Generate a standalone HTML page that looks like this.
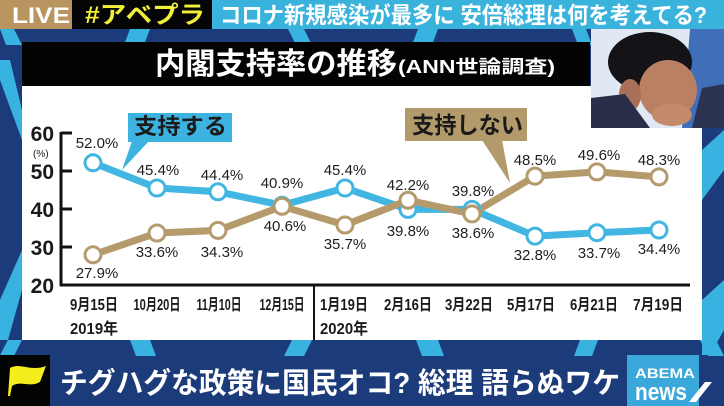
<!DOCTYPE html>
<html><head><meta charset="utf-8">
<style>
html,body{margin:0;padding:0;background:#1c3c7c;}
svg{display:block;}
text{font-family:"Liberation Sans","Noto Sans CJK JP",sans-serif;}
</style></head>
<body>
<svg width="724" height="406" viewBox="0 0 724 406" xmlns="http://www.w3.org/2000/svg">
<rect x="0" y="0" width="724" height="406" fill="#1c3b7b"/>
<g fill="#38b2e0">
<polygon points="0,29 14,29 22,45 6,45"/>
<polygon points="130,29 150,29 144,45 124,45"/>
<polygon points="288,29 304,29 312,45 296,45"/>
<polygon points="418,29 438,29 432,45 412,45"/>
<polygon points="572,29 586,29 592,45 578,45"/>
<polygon points="0,60 10,60 22,110 22,140 0,80"/>
<polygon points="0,300 22,250 22,290 8,340 0,340"/>
<polygon points="702,150 724,130 724,170 702,200"/>
<polygon points="702,300 724,280 724,330 710,355 702,355"/>
<polygon points="8,340 22,340 14,356 0,356 0,355"/>
<polygon points="130,340 150,340 156,356 136,356"/>
<polygon points="292,340 312,340 304,356 284,356"/>
<polygon points="416,340 438,340 444,356 422,356"/>
<polygon points="580,340 598,340 592,356 574,356"/>
<polygon points="700,340 716,340 724,356 708,356"/>
</g>
<rect x="0" y="0" width="72" height="29" fill="#b8955e"/>
<rect x="72" y="0" width="140" height="29" fill="#050505"/>
<rect x="212" y="0" width="512" height="29" fill="#3ab3dc"/>
<text x="12" y="23" font-size="22" font-weight="bold" fill="#ffffff" textLength="58" lengthAdjust="spacingAndGlyphs">LIVE</text>
<text x="85" y="23" font-size="24" font-weight="bold" fill="#f2ef3a" textLength="120" lengthAdjust="spacingAndGlyphs">#アベプラ</text>
<text x="220" y="23" font-size="23" font-weight="bold" fill="#ffffff" textLength="487" lengthAdjust="spacingAndGlyphs">コロナ新規感染が最多に 安倍総理は何を考えてる?</text>

<rect x="22" y="86" width="680" height="254" fill="#ffffff"/>

<g>
<rect x="591" y="29" width="133" height="99" fill="#dfe8f3"/>
<polygon points="690,29 724,29 724,90 705,128 682,128" fill="#3f6fb8"/>
<ellipse cx="650" cy="62" rx="42" ry="30" fill="#141418"/>
<ellipse cx="668" cy="90" rx="29" ry="30" fill="#b98064"/>
<ellipse cx="630" cy="95" rx="11" ry="16" fill="#a87058"/>
<polygon points="591,98 625,94 650,128 591,128" fill="#2a2e48"/>
<polygon points="702,88 724,84 724,128 692,128" fill="#2c3350"/>
<ellipse cx="672" cy="115" rx="20" ry="11" fill="#c48a6c"/>
</g>

<rect x="22" y="42" width="568" height="44" fill="#030303"/>
<text x="155" y="74" font-size="30" font-weight="bold" fill="#ffffff" textLength="242" lengthAdjust="spacingAndGlyphs">内閣支持率の推移</text>
<text x="398" y="73" font-size="18" font-weight="bold" fill="#ffffff" textLength="157" lengthAdjust="spacingAndGlyphs">(ANN世論調査)</text>

<g stroke="#111" stroke-width="3" fill="none">
<line x1="61" y1="132" x2="61" y2="286"/>
<line x1="60" y1="285" x2="690" y2="285"/>
<line x1="61" y1="133" x2="72" y2="133"/>
<line x1="61" y1="171" x2="72" y2="171"/>
<line x1="61" y1="209" x2="72" y2="209"/>
<line x1="61" y1="247" x2="72" y2="247"/>
</g>
<line x1="314" y1="285" x2="314" y2="340" stroke="#111" stroke-width="2"/>
<g font-size="21" font-weight="bold" fill="#1a1a1a" text-anchor="end">
<text x="54" y="141">60</text>
<text x="54" y="179">50</text>
<text x="54" y="217">40</text>
<text x="54" y="255">30</text>
<text x="54" y="293">20</text>
</g>
<text x="33" y="157" font-size="10" fill="#1a1a1a">(%)</text>

<g font-size="16" font-weight="bold" fill="#1a1a1a" text-anchor="middle">
<text x="94" y="310" textLength="48" lengthAdjust="spacingAndGlyphs">9月15日</text>
<text x="157" y="310" textLength="47" lengthAdjust="spacingAndGlyphs">10月20日</text>
<text x="219" y="310" textLength="45" lengthAdjust="spacingAndGlyphs">11月10日</text>
<text x="282" y="310" textLength="45" lengthAdjust="spacingAndGlyphs">12月15日</text>
<text x="344" y="310" textLength="48" lengthAdjust="spacingAndGlyphs">1月19日</text>
<text x="408" y="310" textLength="48" lengthAdjust="spacingAndGlyphs">2月16日</text>
<text x="469" y="310" textLength="48" lengthAdjust="spacingAndGlyphs">3月22日</text>
<text x="531" y="310" textLength="48" lengthAdjust="spacingAndGlyphs">5月17日</text>
<text x="594" y="310" textLength="48" lengthAdjust="spacingAndGlyphs">6月21日</text>
<text x="658" y="310" textLength="50" lengthAdjust="spacingAndGlyphs">7月19日</text>
<text x="94" y="334" textLength="48" lengthAdjust="spacingAndGlyphs">2019年</text>
<text x="344" y="334" textLength="48" lengthAdjust="spacingAndGlyphs">2020年</text>
</g>

<polyline fill="none" stroke="#42b6e2" stroke-width="7" stroke-linejoin="round"
 points="93,162.8 157,188 218,191.8 282,205.2 345,188 408,209.4 472,209.4 535,236.1 597,232.7 659,230"/>
<polyline fill="none" stroke="#b59a6c" stroke-width="7" stroke-linejoin="round"
 points="93,254.8 157,233 218,230.4 282,206.3 345,225 408,200.2 472,213.9 535,176.1 597,171.9 659,176.9"/>
<g fill="#ffffff" stroke="#42b6e2" stroke-width="3">
<circle cx="93" cy="162.8" r="8"/><circle cx="157" cy="188" r="8"/><circle cx="218" cy="191.8" r="8"/>
<circle cx="282" cy="205.2" r="8"/><circle cx="345" cy="188" r="8"/><circle cx="408" cy="209.4" r="8"/>
<circle cx="472" cy="209.4" r="8"/><circle cx="535" cy="236.1" r="8"/><circle cx="597" cy="232.7" r="8"/>
<circle cx="659" cy="230" r="8"/>
</g>
<g fill="#ffffff" stroke="#b59a6c" stroke-width="3">
<circle cx="93" cy="254.8" r="8"/><circle cx="157" cy="233" r="8"/><circle cx="218" cy="230.4" r="8"/>
<circle cx="282" cy="206.3" r="8"/><circle cx="345" cy="225" r="8"/><circle cx="408" cy="200.2" r="8"/>
<circle cx="472" cy="213.9" r="8"/><circle cx="535" cy="176.1" r="8"/><circle cx="597" cy="171.9" r="8"/>
<circle cx="659" cy="176.9" r="8"/>
</g>

<g font-size="15" fill="#1e1e1e" text-anchor="middle">
<text x="97" y="148">52.0%</text>
<text x="158" y="175">45.4%</text>
<text x="222" y="180">44.4%</text>
<text x="282" y="188">40.9%</text>
<text x="345" y="175">45.4%</text>
<text x="408" y="236">39.8%</text>
<text x="473" y="196">39.8%</text>
<text x="535" y="260">32.8%</text>
<text x="599" y="258">33.7%</text>
<text x="659" y="254">34.4%</text>
<text x="97" y="278">27.9%</text>
<text x="157" y="257">33.6%</text>
<text x="222" y="257">34.3%</text>
<text x="285" y="231">40.6%</text>
<text x="345" y="249">35.7%</text>
<text x="408" y="190">42.2%</text>
<text x="473" y="238">38.6%</text>
<text x="535" y="165">48.5%</text>
<text x="599" y="160">49.6%</text>
<text x="659" y="165">48.3%</text>
</g>

<polygon points="132,141 149,141 122,170" fill="#3cb3e0"/>
<rect x="128" y="113" width="104" height="29" fill="#3cb3e0"/>
<text x="134" y="134" font-size="22" font-weight="bold" fill="#1a1a1a" textLength="93" lengthAdjust="spacingAndGlyphs">支持する</text>
<polygon points="482,140 502,140 510,183" fill="#b39a6b"/>
<rect x="405" y="108" width="122" height="33" fill="#b39a6b"/>
<text x="412" y="133" font-size="23" font-weight="bold" fill="#1a1a1a" textLength="111" lengthAdjust="spacingAndGlyphs">支持しない</text>

<rect x="0" y="355" width="50" height="51" fill="#030303"/>
<path d="M10,368 C20,362 30,372 46,366 L40,382 C30,388 20,380 12,386 L10,396 L8,396 Z" fill="#f4ee1c"/>
<text x="60" y="393" font-size="29" font-weight="bold" fill="#ffffff" textLength="560" lengthAdjust="spacingAndGlyphs">チグハグな政策に国民オコ? 総理 語らぬワケ</text>
<rect x="627" y="355" width="72" height="51" fill="#3aa8da"/>
<text x="635" y="378" font-size="14" font-weight="bold" fill="#ffffff" textLength="60" lengthAdjust="spacingAndGlyphs">ABEMA</text>
<text x="635" y="400" font-size="24" font-weight="bold" fill="#ffffff" textLength="52" lengthAdjust="spacingAndGlyphs">news</text>
<polygon points="705,382 712,382 696,402 689,402" fill="#ffffff"/>
</svg>
</body></html>
